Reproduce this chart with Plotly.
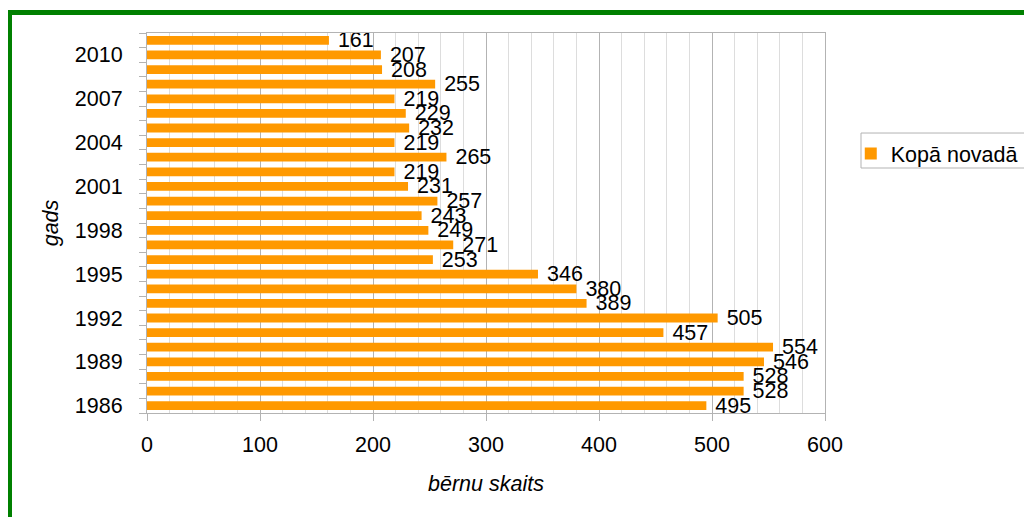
import plotly.graph_objects as go

years = list(range(1986, 2012))
values = [495, 528, 528, 546, 554, 457, 505, 389, 380, 346, 253, 271, 249, 243,
          257, 231, 219, 265, 219, 232, 229, 219, 255, 208, 207, 161]
tick_years = [1986, 1989, 1992, 1995, 1998, 2001, 2004, 2007, 2010]
series_name = "Kopā novadā"

FONT = "Liberation Sans, Arial, sans-serif"
FS = 21.5

fig = go.Figure()
fig.add_trace(go.Bar(
    x=values, y=years, orientation="h", name=series_name,
    marker=dict(color="#ff9900", line=dict(width=0)),
    width=0.6,
    text=["\u00a0" + str(v) for v in values], textposition="outside",
    textfont=dict(family=FONT, size=FS, color="#000000"),
    constraintext="none", cliponaxis=False,
))

fig.update_layout(
    width=1024, height=509,
    margin=dict(l=139, r=207, t=25, b=104, autoexpand=False),
    paper_bgcolor="white", plot_bgcolor="white",
    font=dict(family=FONT, size=FS, color="#000000"),
    showlegend=True,
    legend=dict(x=1.038, y=0.737, xanchor="left", yanchor="top",
                borderwidth=0, bgcolor="rgba(0,0,0,0)",
                font=dict(family=FONT, size=FS, color="#000000"),
                itemwidth=30),
    xaxis=dict(
        range=[0, 600], dtick=100, tick0=0,
        showgrid=True, gridcolor="#b3b3b3", gridwidth=1,
        minor=dict(dtick=20, showgrid=True, gridcolor="#dddddd"),
        ticks="outside", ticklen=7, tickcolor="#b3b3b3",
        showline=True, linecolor="#b3b3b3", mirror=True,
        zeroline=False, ticklabelstandoff=5,
        tickfont=dict(family=FONT, size=FS, color="#000000"),
        title=dict(text="<i>bērnu skaits</i>", font=dict(family=FONT, size=FS), standoff=20),
    ),
    yaxis=dict(
        range=[1985.5, 2011.5], tickvals=tick_years,
        ticktext=[str(t) for t in tick_years],
        ticks="", showgrid=False, zeroline=False,
        minor=dict(tick0=1985.5, dtick=1, ticks="outside", ticklen=7,
                   tickcolor="#b3b3b3", showgrid=False),
        showline=True, linecolor="#b3b3b3", mirror=True,
        ticklabelstandoff=19,
        tickfont=dict(family=FONT, size=FS, color="#000000"),
        title=dict(text="<i>gads</i>", font=dict(family=FONT, size=FS), standoff=10),
    ),
)

# legend box
fig.add_shape(type="rect", xref="paper", yref="paper",
              x0=1.0531, x1=1.2994, y0=0.6447, y1=0.7368,
              line=dict(color="#b3b3b3", width=1), fillcolor="rgba(0,0,0,0)")

# green frame around the chart
fig.add_shape(type="rect", xref="paper", yref="paper",
              x0=-0.2028, x1=1.32, y0=-0.31, y1=1.054,
              line=dict(color="#008000", width=5), fillcolor="rgba(0,0,0,0)",
              layer="above")

fig.write_html("out.html")
